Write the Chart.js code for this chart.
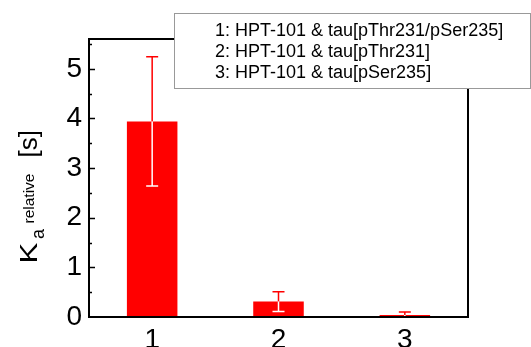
<!DOCTYPE html>
<html>
<head>
<meta charset="utf-8">
<script src="https://cdn.jsdelivr.net/npm/chart.js@4.4.0/dist/chart.umd.min.js"></script>
<style>
  html, body { margin: 0; padding: 0; background: #fff; }
  #wrap { width: 531px; height: 347px; }
</style>
</head>
<body>
<div id="wrap"><canvas id="kaChart" width="531" height="347"></canvas></div>
<script>
// data
const categories = ['1', '2', '3'];
const kaValues = [3.94, 0.31, 0.04];
const kaErrors = [1.30, 0.20, 0.06];
const legendLines = [
    '1: HPT-101 & tau[pThr231/pSer235]',
    '2: HPT-101 & tau[pThr231]',
    '3: HPT-101 & tau[pSer235]'
];

const FONT = '"Liberation Sans", Arial, sans-serif';

// frame, inward ticks, error bars, axis title and the text box
const decorations = {
    id: 'decorations',
    afterDatasetsDraw(chart) {
        const ctx = chart.ctx;
        const area = chart.chartArea;
        const yScale = chart.scales.y;
        const meta = chart.getDatasetMeta(0);

        // error bars: red outside the bar, white inside it
        ctx.save();
        ctx.beginPath();
        ctx.rect(area.left, area.top - 5, area.right - area.left, area.bottom - area.top + 5);
        ctx.clip();
        ctx.lineWidth = 1.5;
        meta.data.forEach((bar, i) => {
            const x = bar.x;
            const yTop = yScale.getPixelForValue(kaValues[i] + kaErrors[i]);
            const yMid = yScale.getPixelForValue(kaValues[i]);
            const yBot = yScale.getPixelForValue(kaValues[i] - kaErrors[i]);
            const cap = 6;
            ctx.strokeStyle = '#ff0000';
            ctx.beginPath();
            ctx.moveTo(x, yTop); ctx.lineTo(x, yMid);
            ctx.moveTo(x - cap, yTop); ctx.lineTo(x + cap, yTop);
            ctx.stroke();
            ctx.strokeStyle = '#ffffff';
            ctx.beginPath();
            ctx.moveTo(x, yMid); ctx.lineTo(x, yBot);
            ctx.moveTo(x - cap, yBot); ctx.lineTo(x + cap, yBot);
            ctx.stroke();
        });
        ctx.restore();

        // plot frame
        ctx.save();
        ctx.strokeStyle = '#000';
        ctx.lineWidth = 2;
        ctx.beginPath();
        ctx.moveTo(area.left, area.top);
        ctx.lineTo(area.left, area.bottom);
        ctx.lineTo(area.right, area.bottom);
        ctx.lineTo(area.right, area.top);
        ctx.closePath();
        ctx.stroke();

        // inward ticks on the y axis
        ctx.lineWidth = 1.5;
        for (let v = 0.5; v < yScale.max; v += 0.5) {
            const py = Math.round(yScale.getPixelForValue(v)) + 0.5;
            const len = (Math.abs(v - Math.round(v)) < 1e-6) ? 6 : 3;
            ctx.beginPath();
            ctx.moveTo(area.left, py);
            ctx.lineTo(area.left + len, py);
            ctx.stroke();
        }
        ctx.restore();

        // y axis title: K_a^relative [s], rotated, read bottom to top
        ctx.save();
        ctx.translate(36.5, 263.5);
        ctx.rotate(-Math.PI / 2);
        ctx.fillStyle = '#000';
        ctx.textBaseline = 'alphabetic';
        // the K in the reference is wide, so stretch it a little
        ctx.save();
        ctx.scale(1.3, 1);
        ctx.font = '24px ' + FONT;
        ctx.fillText('K', 0, 0);
        ctx.restore();
        ctx.font = '18px ' + FONT;
        ctx.fillText('a', 24.5, 7.5);
        ctx.font = '15.5px ' + FONT;
        ctx.fillText('relative', 40, -2.5);
        ctx.font = '26px ' + FONT;
        ctx.fillText('[s]', 106, 0);
        ctx.restore();

        // text box in the upper right
        ctx.save();
        const bx = 174.5, by = 13.5, bw = 356, bh = 75;
        ctx.fillStyle = '#fff';
        ctx.fillRect(bx, by, bw, bh);
        ctx.strokeStyle = '#999';
        ctx.lineWidth = 1;
        ctx.strokeRect(bx, by, bw, bh);
        ctx.fillStyle = '#000';
        ctx.font = '18px ' + FONT;
        ctx.textBaseline = 'middle';
        legendLines.forEach((line, i) => {
            ctx.fillText(line, 215, 31 + i * 21);
        });
        ctx.restore();
    }
};

const ctx = document.getElementById('kaChart').getContext('2d');
new Chart(ctx, {
    type: 'bar',
    data: {
        labels: categories,
        datasets: [{
            data: kaValues,
            backgroundColor: '#ff0000',
            borderWidth: 0,
            barPercentage: 0.4,
            categoryPercentage: 1.0
        }]
    },
    options: {
        responsive: false,
        animation: false,
        layout: {
            padding: { left: 0, top: 39, right: 63, bottom: 0 }
        },
        plugins: {
            legend: { display: false },
            tooltip: { enabled: false }
        },
        scales: {
            x: {
                grid: { display: false, drawTicks: false },
                border: { display: false },
                ticks: {
                    color: '#000',
                    padding: 6,
                    font: { family: FONT, size: 28 }
                },
                afterFit(scale) { scale.height = 30; }
            },
            y: {
                min: 0,
                max: 5.6,
                grid: { display: false, drawTicks: false },
                border: { display: false },
                ticks: {
                    stepSize: 1,
                    includeBounds: false,
                    color: '#000',
                    padding: 7,
                    font: { family: FONT, size: 28 },
                    callback: v => Number.isInteger(v) ? v : ''
                },
                afterFit(scale) { scale.width = 89; }
            }
        }
    },
    plugins: [decorations]
});
</script>
</body>
</html>
